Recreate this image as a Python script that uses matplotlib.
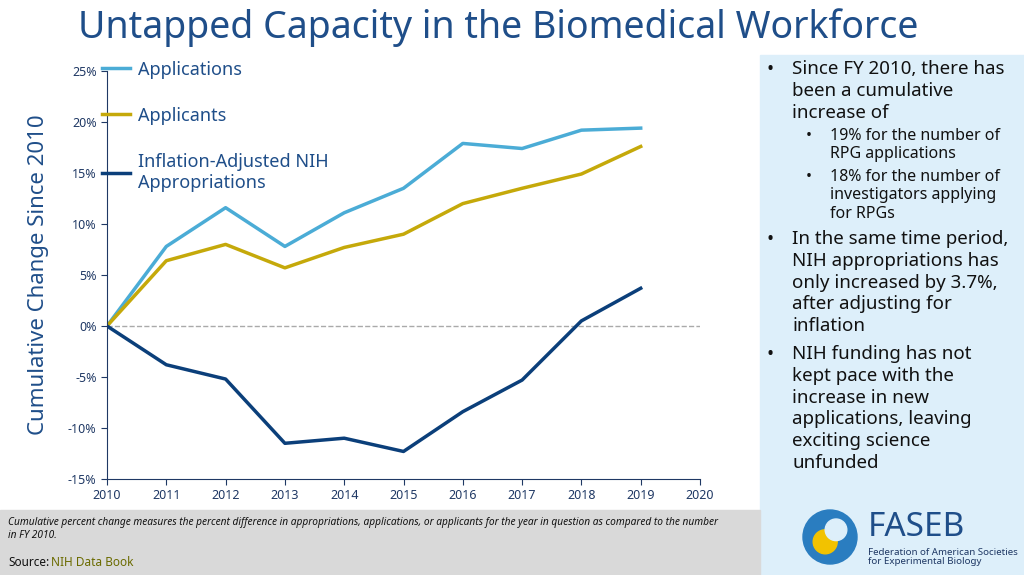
import matplotlib
matplotlib.use("Agg")
import matplotlib.pyplot as plt
from matplotlib.patches import Rectangle, Circle

plt.rcParams['font.family'] = ['Noto Sans', 'DejaVu Sans']

years = [2010, 2011, 2012, 2013, 2014, 2015, 2016, 2017, 2018, 2019]
applications = [0, 7.8, 11.6, 7.8, 11.1, 13.5, 17.9, 17.4, 19.2, 19.4]
applicants = [0, 6.4, 8.0, 5.7, 7.7, 9.0, 12.0, 13.5, 14.9, 17.6]
nih = [0, -3.8, -5.2, -11.5, -11.0, -12.3, -8.4, -5.3, 0.5, 3.7]
yticks = [-15, -10, -5, 0, 5, 10, 15, 20, 25]
xticks = [2010, 2011, 2012, 2013, 2014, 2015, 2016, 2017, 2018, 2019, 2020]

c_app, c_appl, c_nih = '#4BACD6', '#C5A90A', '#0B3F7A'
dark = '#1F4E89'

fig = plt.figure(figsize=(10.24, 5.75), dpi=100)
fig.patches.append(Rectangle((760/1024, 0), 264/1024, 520/575, transform=fig.transFigure,
                             color='#DDEFFA', zorder=0))
fig.patches.append(Rectangle((0, 0), 760/1024, 65/575, transform=fig.transFigure,
                             color='#D9D9D9', zorder=0))

ax = fig.add_axes([107/1024, 96/575, 593/1024, 408/575])
ax.plot(years, applications, color=c_app, lw=2.5, label='Applications')
ax.plot(years, applicants, color=c_appl, lw=2.5, label='Applicants')
ax.plot(years, nih, color=c_nih, lw=2.5, label='Inflation-Adjusted NIH\nAppropriations')
ax.axhline(0, color='#AAAAAA', lw=1, ls='--', zorder=0)
ax.set_xlim(2010, 2020)
ax.set_ylim(-15, 25)
ax.set_xticks(xticks)
ax.set_yticks(yticks)
ax.set_yticklabels([f'{v}%' for v in yticks])
ax.tick_params(labelsize=9, colors='#1F3864', length=4)
for s in ['top', 'right']:
    ax.spines[s].set_visible(False)
for s in ['left', 'bottom']:
    ax.spines[s].set_color('#1F3864')
ax.set_ylabel('Cumulative Change Since 2010', fontsize=16, color=dark, labelpad=14)
leg = ax.legend(loc='upper left', bbox_to_anchor=(-0.035, 1.065), frameon=False, fontsize=13,
                labelspacing=1.55, handlelength=1.5, handletextpad=0.45)
for t in leg.get_texts():
    t.set_color(dark)

fig.text(78/1024, 1 - 28/575, 'Untapped Capacity in the Biomedical Workforce', fontsize=27,
         color=dark, va='center')

bul = [
    (0, 'Since FY 2010, there has\nbeen a cumulative\nincrease of', 13.5, 60),
    (1, '19% for the number of\nRPG applications', 11.5, 128),
    (1, '18% for the number of\ninvestigators applying\nfor RPGs', 11.5, 169),
    (0, 'In the same time period,\nNIH appropriations has\nonly increased by 3.7%,\nafter adjusting for\ninflation', 13.5, 230),
    (0, 'NIH funding has not\nkept pace with the\nincrease in new\napplications, leaving\nexciting science\nunfunded', 13.5, 345),
]
for lvl, txt, fs, y in bul:
    xb = 766 if lvl == 0 else 806
    fig.text(xb/1024, 1 - y/575, '•', fontsize=fs, color='#111111', va='top')
    fig.text((xb + 26 if lvl == 0 else xb + 24)/1024, 1 - y/575, txt, fontsize=fs,
             color='#111111', va='top', linespacing=1.27 if lvl == 0 else 1.2)

fig.text(8/1024, 1 - 517/575, 'Cumulative percent change measures the percent difference in appropriations, applications, or applicants for the year in question as compared to the number\nin FY 2010.',
         fontsize=7.3, style='italic', va='top', color='#111111')
fig.text(8/1024, 1 - 562/575, 'Source:', fontsize=8.5, va='center', color='#111111')
fig.text(51/1024, 1 - 562/575, 'NIH Data Book', fontsize=8.5, va='center', color='#6B6B00')

# logo
lax = fig.add_axes([800/1024, 8/575, 60/1024, 60/575], zorder=5)
lax.set_xlim(0, 1); lax.set_ylim(0, 1); lax.axis('off'); lax.set_aspect('equal')
lax.add_patch(Circle((0.5, 0.5), 0.45, color='#2A7DC0'))
lax.add_patch(Circle((0.42, 0.42), 0.2, color='#F2C200'))
lax.add_patch(Circle((0.6, 0.62), 0.18, color='#DDEFFA'))
fig.text(868/1024, 1 - 527/575, 'FASEB', fontsize=24, weight='bold', color='#1F4E89', va='center')
fig.text(868/1024, 1 - 557/575, 'Federation of American Societies\nfor Experimental Biology',
         fontsize=7, color='#1F3864', va='center', linespacing=1.1)

fig.savefig('out.png', dpi=100)
